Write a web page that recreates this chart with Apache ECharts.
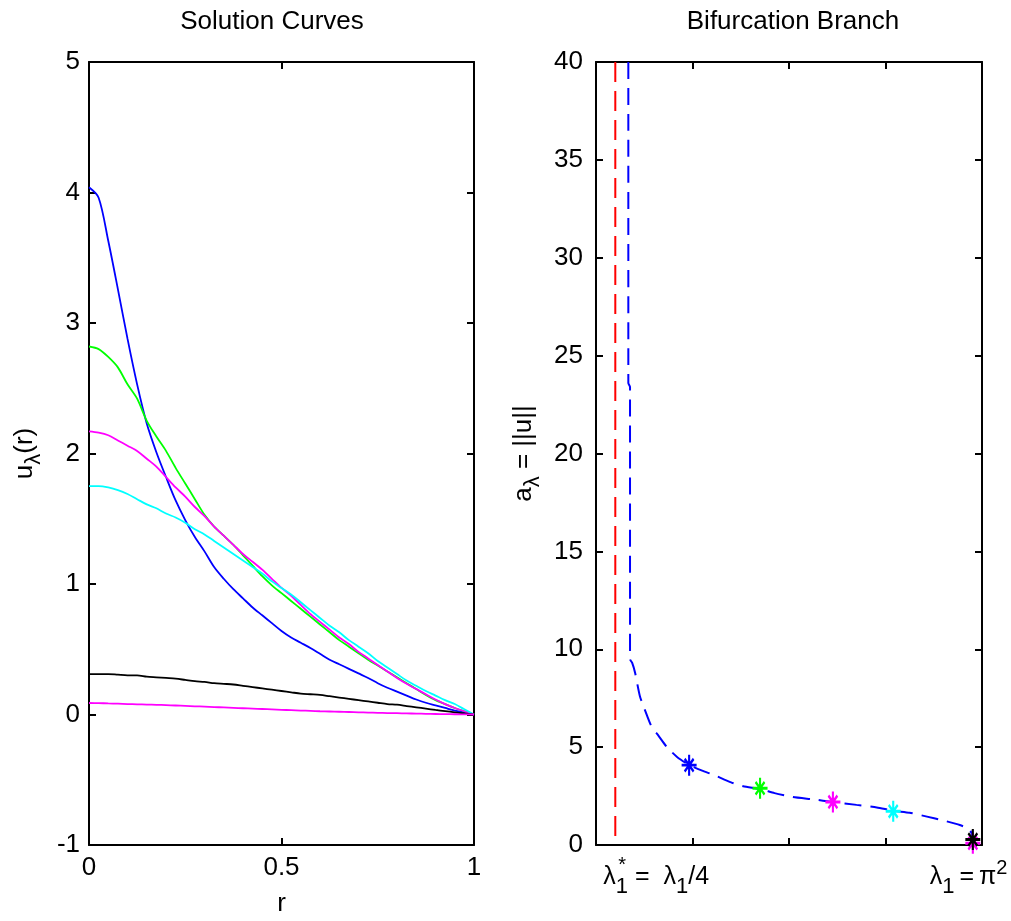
<!DOCTYPE html>
<html><head><meta charset="utf-8">
<script src="https://cdn.jsdelivr.net/npm/echarts@6/dist/echarts.min.js"></script>
<style>html,body{margin:0;padding:0;background:#fff}#c{width:1011px;height:921px}</style>
</head><body><div id="c"></div>
<script>
// ---- data ----
const r = [0,0.025,0.05,0.075,0.1,0.125,0.15,0.175,0.2,0.225,0.25,0.275,0.3,0.325,0.35,0.375,0.4,0.425,0.45,0.475,0.5,0.525,0.55,0.575,0.6,0.625,0.65,0.675,0.7,0.725,0.75,0.775,0.8,0.825,0.85,0.875,0.9,0.925,0.95,0.975,1];
const uBlue = [4.04,3.96,3.63,3.26,2.88,2.53,2.23,2.01,1.82,1.64,1.49,1.36,1.25,1.13,1.04,0.96,0.89,0.82,0.76,0.70,0.64,0.59,0.55,0.51,0.465,0.42,0.385,0.35,0.315,0.28,0.24,0.205,0.175,0.145,0.115,0.09,0.07,0.05,0.03,0.015,0];
const uGreen = [2.82,2.80,2.74,2.66,2.53,2.42,2.25,2.13,2.02,1.89,1.77,1.65,1.53,1.44,1.37,1.30,1.22,1.14,1.06,0.99,0.93,0.87,0.81,0.75,0.69,0.63,0.57,0.52,0.47,0.42,0.375,0.33,0.285,0.24,0.195,0.15,0.11,0.08,0.05,0.025,0];
const uMagenta = [2.17,2.16,2.14,2.10,2.06,2.02,1.96,1.90,1.82,1.74,1.67,1.59,1.52,1.44,1.37,1.30,1.23,1.17,1.11,1.04,0.97,0.91,0.84,0.77,0.71,0.65,0.59,0.54,0.48,0.43,0.38,0.33,0.28,0.235,0.195,0.155,0.115,0.08,0.05,0.025,0];
const uCyan = [1.75,1.75,1.74,1.72,1.69,1.65,1.61,1.58,1.54,1.51,1.47,1.42,1.38,1.33,1.28,1.23,1.18,1.13,1.08,1.02,0.97,0.92,0.86,0.80,0.74,0.68,0.63,0.57,0.52,0.47,0.41,0.36,0.31,0.26,0.22,0.18,0.145,0.11,0.08,0.04,0];
const uBlack = [0.31,0.31,0.31,0.305,0.30,0.30,0.29,0.285,0.28,0.275,0.265,0.255,0.25,0.24,0.235,0.23,0.22,0.21,0.20,0.19,0.18,0.17,0.16,0.155,0.15,0.14,0.13,0.12,0.11,0.10,0.09,0.08,0.075,0.065,0.055,0.045,0.035,0.026,0.017,0.008,0];
const uMagentaSmall = [0.088,0.087,0.085,0.083,0.08,0.078,0.076,0.074,0.072,0.069,0.066,0.063,0.06,0.057,0.054,0.051,0.048,0.045,0.042,0.039,0.036,0.033,0.03,0.028,0.025,0.023,0.021,0.019,0.017,0.015,0.013,0.011,0.01,0.008,0.007,0.005,0.004,0.003,0.002,0.001,0];

const lamBranch = [2.67,2.67,2.705,2.705,2.75,2.81,2.91,3.06,3.16,3.29,3.47,3.68,3.93,4.2,4.42,4.8,5.05,5.40,5.7,6.08,6.5,6.91,7.4,7.82,8.16,8.5,8.86,9.2,9.54,9.75,9.82];
const ampBranch = [40,23.6,23.4,9.5,9.3,8.8,7.6,6.6,6.0,5.6,5.0,4.5,4.09,3.8,3.6,3.2,3.0,2.86,2.65,2.45,2.33,2.20,2.05,1.92,1.75,1.65,1.45,1.25,1.02,0.77,0.3];
const lamStar = 2.4;           // λ1* = λ1/4 (red dashed line)
const lamOne = 9.87;           // λ1 = π²
const redLineAmp = [40, 0];
const lamStars = [3.93,5.40,6.91,8.16,9.81,9.81];
const ampStars = [4.08,2.9,2.2,1.72,0.09,0.28];
const starColors = ['#0000ff','#00ff00','#ff00ff','#00ffff','#ff00ff','#000000'];

const leftYTicks = {min:-1, max:5, interval:1};
const leftXTicks = {min:0, max:1, interval:0.5};
const rightYTicks = {min:0, max:40, interval:5};
const rightXTicks = {min:2, max:10, interval:2};

// ---- chart ----
const FONT = 'Liberation Sans';
const zip = (a, b) => a.map((v, i) => [v, b[i]]);
const ax = (extra) => Object.assign({
  type:'value',
  axisLine:{show:true, onZero:false, lineStyle:{color:'#000', width:2}},
  axisTick:{show:true, inside:true, length:7, lineStyle:{color:'#000', width:2}},
  splitLine:{show:false},
  axisLabel:{show:false, color:'#000', fontFamily:FONT, fontSize:26},
  nameMoveOverlap:false
}, extra);
const lab = (m) => ({show:true, color:'#000', fontFamily:FONT, fontSize:26, margin:m});
const rich = {
  n:{fontFamily:FONT, fontSize:26, color:'#000', verticalAlign:'middle'},
  s:{fontFamily:FONT, fontSize:22, color:'#000', padding:[19,0,0,0], verticalAlign:'middle'},
  p:{fontFamily:FONT, fontSize:21, color:'#000', padding:[0,0,16,0], verticalAlign:'middle'}
};
const richB = {
  n:{fontFamily:FONT, fontSize:25, color:'#000', verticalAlign:'middle'},
  s:{fontFamily:FONT, fontSize:22, color:'#000', padding:[19,0,0,0], verticalAlign:'middle'},
  p:{fontFamily:FONT, fontSize:20, color:'#000', padding:[0,0,18,0], verticalAlign:'middle'}
};
const curve = (name, ys, color) => ({
  name, type:'line', xAxisIndex:0, yAxisIndex:0, data:zip(r, ys), showSymbol:false,
  smooth:0.3, lineStyle:{color, width:1.8}, silent:true
});

const chart = echarts.init(document.getElementById('c'), null, {renderer:'canvas'});
chart.setOption({
  animation:false,
  backgroundColor:'#fff',
  title:[
    {text:'Solution Curves', left:267, top:4, textAlign:'center', textStyle:{fontFamily:FONT, fontSize:26, fontWeight:'normal', color:'#000'}},
    {text:'Bifurcation Branch', left:788, top:4, textAlign:'center', textStyle:{fontFamily:FONT, fontSize:26, fontWeight:'normal', color:'#000'}}
  ],
  grid:[
    {left:89, top:62, width:385, height:783, outerBoundsMode:'none'},
    {left:596, top:62, width:386, height:783, outerBoundsMode:'none'}
  ],
  xAxis:[
    ax(Object.assign({gridIndex:0, position:'bottom', axisLabel:lab(10), name:'r', nameLocation:'middle', nameGap:46,
       nameTextStyle:{fontFamily:FONT, fontSize:26, color:'#000'}}, leftXTicks)),
    ax(Object.assign({gridIndex:0, position:'top'}, leftXTicks)),
    ax(Object.assign({gridIndex:1, position:'bottom'}, rightXTicks)),
    ax(Object.assign({gridIndex:1, position:'top'}, rightXTicks))
  ],
  yAxis:[
    ax(Object.assign({gridIndex:0, position:'left', axisLabel:lab(9), name:'{n|u}{s|λ}{n|(r)}', nameLocation:'middle', nameGap:44, nameRotate:90,
       nameTextStyle:{rich}}, leftYTicks)),
    ax(Object.assign({gridIndex:0, position:'right'}, leftYTicks)),
    ax(Object.assign({gridIndex:1, position:'left', axisLabel:lab(13), name:'{n|a}{s|λ}{n| = ||u||}', nameLocation:'middle', nameGap:52, nameRotate:90,
       nameTextStyle:{rich}}, rightYTicks)),
    ax(Object.assign({gridIndex:1, position:'right'}, rightYTicks))
  ],
  series:[
    curve('blue', uBlue, '#0000ff'),
    curve('green', uGreen, '#00ff00'),
    curve('magenta', uMagenta, '#ff00ff'),
    curve('cyan', uCyan, '#00ffff'),
    curve('black', uBlack, '#000000'),
    curve('magenta2', uMagentaSmall, '#ff00ff'),
    {type:'line', xAxisIndex:2, yAxisIndex:2, data:redLineAmp.map(a => [lamStar, a]), showSymbol:false,
     lineStyle:{color:'#ff0000', width:2, type:[20,9]}, silent:true},
    {type:'line', xAxisIndex:2, yAxisIndex:2, data:zip(lamBranch, ampBranch), showSymbol:false, smooth:0.2,
     lineStyle:{color:'#0000ff', width:2, type:[17,9]}, silent:true},
    {type:'scatter', xAxisIndex:2, yAxisIndex:2, z:5, silent:true, clip:false,
     symbol:'path://M8.6,0h2.8v20h-2.8z M0,8.6h20v2.8h-20z M3,5l2,-2l12,12l-2,2z M15,3l2,2l-12,12l-2,-2z',
     symbolSize:[15,21],
     itemStyle:{opacity:1},
     data:lamStars.map((l, i) => ({value:[l, ampStars[i]], itemStyle:{color:starColors[i], opacity:1}}))},
    {type:'scatter', xAxisIndex:2, yAxisIndex:2, symbolSize:0, silent:true, clip:false, z:6,
     itemStyle:{opacity:1},
     data:[
       {value:[lamStar, 0], label:{show:true, position:[-12, 12], align:'left', verticalAlign:'top', color:'#000',
         formatter:'{n|λ}{s|1}{n| =  λ}{s|1}{n|/4}', rich:richB}},
       {value:[lamStar, 0], label:{show:true, position:[3, 10], align:'left', verticalAlign:'top', color:'#000',
         formatter:'{n|*}', rich:{n:{fontFamily:FONT, fontSize:20, color:'#000'}}}},
       {value:[lamOne, 0], label:{show:true, position:[-46, 12], align:'left', verticalAlign:'top', color:'#000',
         formatter:'{n|λ}{s|1}{n|\u2009=\u2009π}{p|2}', rich:richB}}
     ]}
  ]
});
</script></body></html>
